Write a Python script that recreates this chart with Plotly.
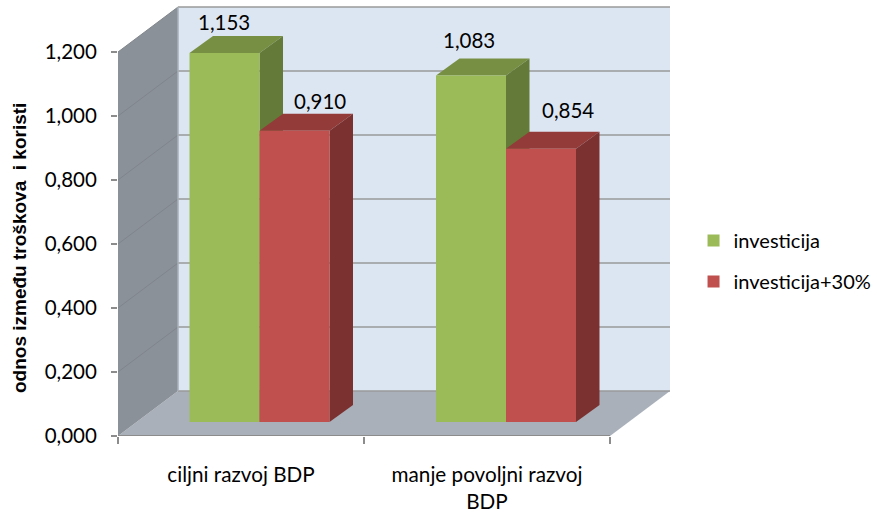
import plotly.graph_objects as go

categories = ["ciljni razvoj BDP", "manje povoljni razvoj<br>BDP"]
series_names = ["investicija", "investicija+30%"]
investicija = [1.153, 1.083]
investicija_30 = [0.910, 0.854]
value_labels = [["1,153", "1,083"], ["0,910", "0,854"]]
y_ticks = [0, 0.2, 0.4, 0.6, 0.8, 1.0, 1.2]
y_tick_labels = ["0,000", "0,200", "0,400", "0,600", "0,800", "1,000", "1,200"]
y_title = "odnos između troškova  i koristi"

# geometry (pixels per unit of the two axes)
PX_X, PX_Y = 246.0, 320.0
L, B, T, R = 118, 77, 5, 204
W, H = 877, 513
x_max = (W - L - R) / PX_X
y_max = (H - T - B) / PX_Y
DX, DY = 60 / PX_X, 45 / PX_Y            # depth of the box
BAR_DX, BAR_DY = 23.5 / PX_X, 17 / PX_Y  # depth of one bar
BASE = 14 / PX_Y
BAR_W = 70 / PX_X
CENTERS = [[(224.5 - L) / PX_X, (471 - L) / PX_X], [(294.5 - L) / PX_X, (541 - L) / PX_X]]
FONT = "Lato, 'Open Sans', sans-serif"
GREEN, RED = "#9bbb59", "#c0504d"
TOPS = ["#778f42", "#933b38"]
SIDES = ["#647a38", "#7a312f"]

fig = go.Figure()


def poly(xs, ys, color, **kw):
    fig.add_trace(go.Scatter(x=xs + xs[:1], y=ys + ys[:1], mode="lines", fill="toself",
                             fillcolor=color, line=dict(width=0), showlegend=False,
                             hoverinfo="skip", **kw))


def line(xs, ys, color, width):
    fig.add_trace(go.Scatter(x=xs, y=ys, mode="lines", line=dict(color=color, width=width),
                             showlegend=False, hoverinfo="skip", cliponaxis=False))


top_v = y_ticks[-1]
# back wall, floor, left wall
poly([DX, 2 + DX, 2 + DX, DX], [DY, DY, top_v + DY, top_v + DY], "#dce6f2")
poly([0, 2, 2 + DX, DX], [0, 0, DY, DY], "#a9b0ba")
poly([0, DX, DX, 0], [0, DY, top_v + DY, top_v], "#8b9198")

for v in y_ticks:
    line([DX, 2 + DX], [v + DY, v + DY], "#9a9a9a", 1.5)
    if v > 0:
        line([0, DX], [v, v + DY], "#7f858b", 1)
line([DX, DX], [0 + DY, top_v + DY], "#a8b0b8", 1.5)
line([0, 2], [0, 0], "#8c8c8c", 2)

# bar tops and sides, back to front
all_values = [investicija, investicija_30]
for k in (0, 1):
    for s in (0, 1):
        v = all_values[s][k]
        x0 = CENTERS[s][k] - BAR_W / 2
        x1 = x0 + BAR_W
        t = BASE + v
        poly([x0, x1, x1 + BAR_DX, x0 + BAR_DX], [t, t, t + BAR_DY, t + BAR_DY], TOPS[s])
        poly([x1, x1 + BAR_DX, x1 + BAR_DX, x1], [BASE, BASE + BAR_DY, t + BAR_DY, t], SIDES[s])

# bar fronts on an overlay so they sit above the walls and depth faces
for s, (name, vals, col) in enumerate(zip(series_names, all_values, [GREEN, RED])):
    fig.add_trace(go.Bar(x=CENTERS[s], y=vals, base=BASE, width=BAR_W, name=name,
                         marker=dict(color=col, line=dict(width=0)), xaxis="x2", yaxis="y2",
                         legendgroup=name, hoverinfo="skip"))

label_shift = [[(-1, 31), (-2, 35)], [(25, 30), (27, 39)]]
for s, vals in enumerate(all_values):
    for k, v in enumerate(vals):
        fig.add_annotation(x=CENTERS[s][k], y=BASE + v, xref="x", yref="y", text=value_labels[s][k],
                           showarrow=False, xshift=label_shift[s][k][0], yshift=label_shift[s][k][1],
                           font=dict(family=FONT, size=20.5, color="#000000"))

fig.add_annotation(x=(19 - L) / (W - L - R), y=(H - B - 248) / (H - T - B), xref="paper", yref="paper",
                   text=y_title, textangle=-90, showarrow=False, xanchor="center", yanchor="middle",
                   font=dict(family="Liberation Sans", size=19, weight="bold", color="#000000"))

fig.update_layout(
    width=W, height=H, margin=dict(l=L, r=R, t=T, b=B, pad=0, autoexpand=False),
    paper_bgcolor="white", plot_bgcolor="rgba(0,0,0,0)", barmode="overlay",
    font=dict(family=FONT, size=20.5, color="#000000"),
    xaxis=dict(range=[0, x_max], tickmode="array", tickvals=[0.5, 1.5], ticktext=categories,
               ticks="", showgrid=False, zeroline=False, showline=False, ticklabelstandoff=24,
               automargin=False, tickfont=dict(size=20.7),
               minor=dict(tickmode="array", tickvals=[0, 1, 2], ticks="outside", ticklen=7,
                          tickwidth=1.5, tickcolor="#8c8c8c", showgrid=False)),
    yaxis=dict(range=[0, y_max], tickmode="array", tickvals=y_ticks, ticktext=y_tick_labels,
               ticks="outside", ticklen=6, tickwidth=1.5, tickcolor="#8c8c8c", showgrid=False,
               zeroline=False, showline=False, ticklabelstandoff=10, automargin=False),
    xaxis2=dict(overlaying="x", range=[0, x_max], visible=False),
    yaxis2=dict(overlaying="y", range=[0, y_max], visible=False),
    legend=dict(x=1.037, xref="paper", xanchor="left", y=0.406, yanchor="middle",
                tracegroupgap=12, font=dict(size=20), bgcolor="rgba(0,0,0,0)"),
    showlegend=True,
)
fig.write_html("out.html", config=dict(displayModeBar=False),
               post_script="document.body.style.margin='0';")
